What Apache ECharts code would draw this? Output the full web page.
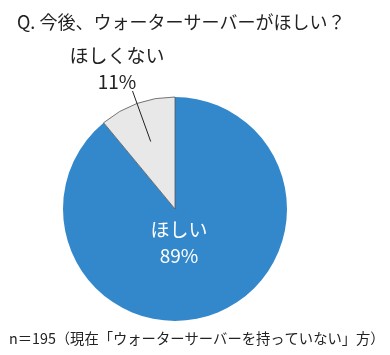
<!DOCTYPE html>
<html><head><meta charset="utf-8">
<script src="https://cdn.jsdelivr.net/npm/echarts@6/dist/echarts.min.js"></script>
<style>html,body{margin:0;padding:0;background:#fff}#c{width:390px;height:355px}</style>
</head><body><div id="c"></div>
<script>
const titleText = 'Q. 今後、ウォーターサーバーがほしい？';
const noteText = 'n＝195（現在「ウォーターサーバーを持っていない」方）';
const categories = ['ほしい', 'ほしくない'];
const values = [89, 11];
const colors = ['#3388cc', '#e8e8e8'];

const FONT = '"Noto Sans CJK JP", sans-serif';
const CX = 175, CY = 209, R = 112;
const total = values.reduce((a, b) => a + b, 0);

// leader line for the small slice, along its mid-angle
const mid = (90 + 360 * values[1] / total / 2) * Math.PI / 180;
const p0 = [CX + Math.cos(mid) * R * 0.64, CY - Math.sin(mid) * R * 0.64];
const p1 = [CX + Math.cos(mid) * R * 1.12, CY - Math.sin(mid) * R * 1.12];

const chart = echarts.init(document.getElementById('c'), null, {renderer: 'canvas'});
chart.setOption({
  backgroundColor: '#fff',
  animation: false,
  title: [
    {text: titleText, left: 12, top: 8, textStyle: {fontFamily: FONT, fontSize: 18, fontWeight: 'normal', color: '#222'}},
    {text: noteText, left: 4, top: 326, textStyle: {fontFamily: FONT, fontSize: 14.3, fontWeight: 'normal', color: '#222'}}
  ],
  graphic: [{
    type: 'line', z: 100,
    shape: {x1: p0[0], y1: p0[1], x2: p1[0], y2: p1[1]},
    style: {stroke: '#222', lineWidth: 1}
  }],
  series: [{
    type: 'pie',
    center: [CX, CY],
    radius: [0, R],
    startAngle: 90,
    clockwise: true,
    data: categories.map((c, i) => ({
      name: c, value: values[i],
      itemStyle: {color: colors[i], borderColor: i === 1 ? '#555' : colors[i], borderWidth: i === 1 ? 0.8 : 0},
      label: {
        position: i === 0 ? 'inside' : 'outside',
        color: i === 0 ? '#fff' : '#222'
      },
      labelLine: {show: false}
    })),
    label: {
      formatter: p => p.name + '\n' + p.value + '%',
      fontFamily: FONT, fontSize: 19, lineHeight: 26, align: 'center',
      overflow: 'none', width: 120
    },
    labelLayout: function (p) {
      if (p.dataIndex === 0) {
        return {x: 179, y: 243, align: 'center', verticalAlign: 'middle'};
      }
      return {x: 117, y: 69, align: 'center', verticalAlign: 'middle'};
    }
  }]
});
</script></body></html>
